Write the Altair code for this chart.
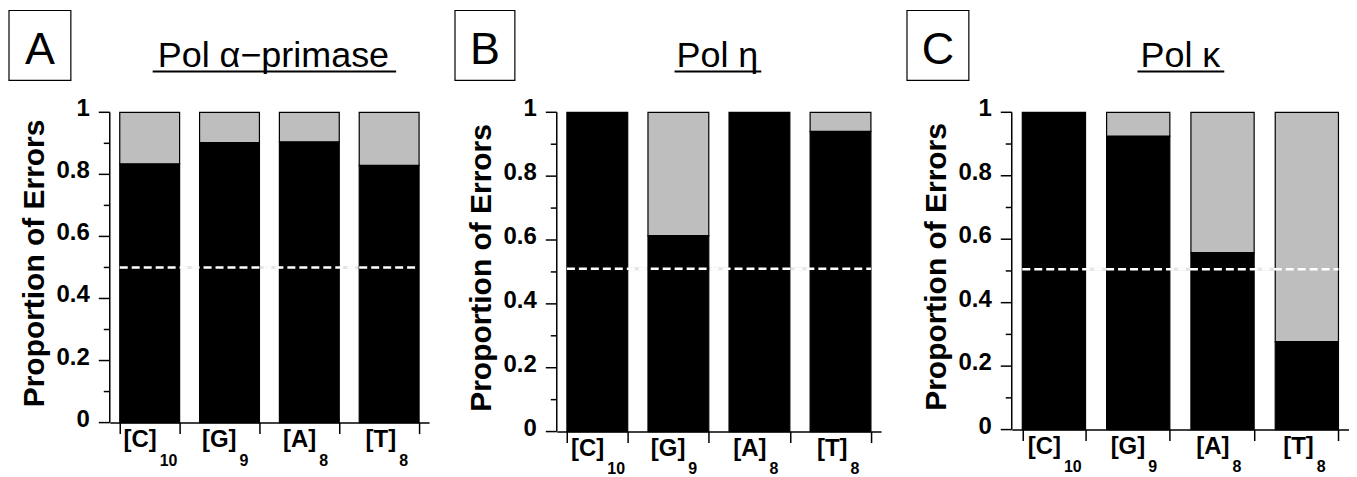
import altair as alt
import pandas as pd

# ---- data ----
categories = ["[C]", "[G]", "[A]", "[T]"]
subscripts = ["10", "9", "8", "8"]

pol_alpha = [0.834, 0.902, 0.905, 0.829]
pol_eta = [1.0, 0.614, 1.0, 0.94]
pol_kappa = [1.0, 0.925, 0.558, 0.277]

ref_alpha = 0.50
ref_eta = 0.51
ref_kappa = 0.505

y_label_values = [0, 0.2, 0.4, 0.6, 0.8, 1]
y_minor_values = [0.1, 0.3, 0.5, 0.7, 0.9]
y_title = "Proportion of Errors"

FONT = "Liberation Sans"
GRAY = "#bebebe"


def one():
    return pd.DataFrame({"k": [0]})


def panel(letter, title, vals, ref, W, H, box, letter_xy, title_xy, uline):
    rows = []
    for c, s, v in zip(categories, subscripts, vals):
        rows.append({"cat": c, "sub": s, "part": "main", "lo": 0.0, "hi": v})
        if v < 1.0:
            rows.append({"cat": c, "sub": s, "part": "other", "lo": v, "hi": 1.0})
    df = pd.DataFrame(rows)
    lab = pd.DataFrame({"cat": categories, "sub": subscripts})

    xscale = alt.Scale(domain=categories, paddingInner=0.25, paddingOuter=0.125)
    yscale = alt.Scale(domain=[0, 1], nice=False)
    step = W / 4.0
    x0, x1 = 0.125 * step, W - 0.125 * step

    xax = alt.Axis(labels=False, title=None, tickBand="extent", tickSize=11,
                   tickWidth=1.5, domainWidth=1.5, domainColor="black", tickColor="black",
                   grid=False)

    shadow = alt.Chart(pd.DataFrame({"r": [ref]})).mark_rule(
        color="#e4e4e4", strokeWidth=3
    ).encode(y=alt.Y("r:Q", scale=yscale, axis=None), x=alt.value(x0), x2=alt.value(x1))

    bars = alt.Chart(df).mark_bar(stroke="black", strokeWidth=1.2).encode(
        x=alt.X("cat:N", scale=xscale, axis=xax, sort=categories),
        y=alt.Y("lo:Q", scale=yscale, axis=None),
        y2="hi:Q",
        color=alt.Color("part:N", scale=alt.Scale(domain=["main", "other"],
                                                  range=["black", GRAY]), legend=None),
    )

    dash = alt.Chart(pd.DataFrame({"r": [ref]})).mark_rule(
        color="white", strokeWidth=2.5, strokeDash=[8, 4]
    ).encode(y=alt.Y("r:Q", scale=yscale, axis=None), x=alt.value(x0), x2=alt.value(x1))

    # y axis drawn by hand: domain, major/minor ticks, labels, title
    ydomain = alt.Chart(one()).mark_rule(color="black", strokeWidth=1.5).encode(
        x=alt.value(0), y=alt.value(0), y2=alt.value(H))

    minor = alt.Chart(pd.DataFrame({"m": y_minor_values})).mark_rule(
        color="black", strokeWidth=1.5
    ).encode(y=alt.Y("m:Q", scale=yscale, axis=None), x=alt.value(-6), x2=alt.value(0))

    major_df = pd.DataFrame({"v": y_label_values})
    major = alt.Chart(major_df).mark_rule(color="black", strokeWidth=1.5).encode(
        y=alt.Y("v:Q", scale=yscale, axis=None), x=alt.value(-11), x2=alt.value(0))

    ylabels = alt.Chart(major_df).mark_text(
        font=FONT, fontSize=24, fontWeight="bold", align="right", baseline="middle",
        dy=-3, color="black"
    ).encode(y=alt.Y("v:Q", scale=yscale, axis=None), x=alt.value(-20),
             text=alt.Text("v:Q", format="~g"))

    ytitle = alt.Chart(one()).mark_text(
        text=y_title, font=FONT, fontSize=30, fontWeight="bold", angle=270,
        align="center", baseline="alphabetic", color="black"
    ).encode(x=alt.value(-66), y=alt.value(H / 2 - 4))

    main_lab = alt.Chart(lab).mark_text(
        font=FONT, fontSize=24, fontWeight="bold", align="right",
        baseline="alphabetic", dx=7, color="black"
    ).encode(x=alt.X("cat:N", scale=xscale, sort=categories), y=alt.value(H + 24), text="cat:N")

    sub_lab = alt.Chart(lab).mark_text(
        font=FONT, fontSize=16, fontWeight="bold", align="left",
        baseline="alphabetic", dx=10, color="black"
    ).encode(x=alt.X("cat:N", scale=xscale, sort=categories), y=alt.value(H + 43), text="sub:N")

    boxm = alt.Chart(one()).mark_rect(fill="white", stroke="black", strokeWidth=1.2).encode(
        x=alt.value(box[0]), x2=alt.value(box[1]), y=alt.value(box[2]), y2=alt.value(box[3]))

    letm = alt.Chart(one()).mark_text(
        text=letter, font=FONT, fontSize=45, align="center", baseline="alphabetic", color="black"
    ).encode(x=alt.value(letter_xy[0]), y=alt.value(letter_xy[1]))

    titm = alt.Chart(one()).mark_text(
        text=title, font=FONT, fontSize=36, align="center", baseline="alphabetic", color="black"
    ).encode(x=alt.value(title_xy[0]), y=alt.value(title_xy[1]))

    ul = alt.Chart(one()).mark_rule(color="black", strokeWidth=2).encode(
        x=alt.value(uline[0]), x2=alt.value(uline[1]), y=alt.value(uline[2]))

    return alt.layer(shadow, bars, dash, ydomain, minor, major, ylabels, ytitle,
                     main_lab, sub_lab, boxm, letm, titm, ul).properties(width=W, height=H)


pA = panel("A", "Pol \u03b1\u2212primase", pol_alpha, ref_alpha, 320, 311,
           (-101, -39, -102, -32), (-70, -48), (164, -45), (43, 287, -41))
pB = panel("B", "Pol \u03b7", pol_eta, ref_eta, 325, 320,
           (-102, -42, -102, -32), (-72, -48), (161, -45), (118, 205, -41))
pC = panel("C", "Pol \u03ba", pol_kappa, ref_kappa, 338, 318,
           (-105, -43, -102, -32), (-74, -48), (169, -45), (126, 213, -41))

chart = alt.hconcat(pA, pB, pC, spacing=25).properties(
    padding={"top": 1, "left": 0, "right": 0, "bottom": 0}
).configure(font=FONT).configure_view(stroke=None)

chart.save("out.html", embed_options={"renderer": "svg", "actions": False})
